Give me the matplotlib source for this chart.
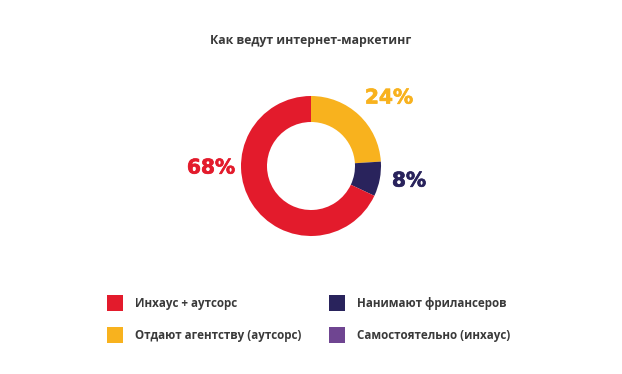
import matplotlib
matplotlib.use("Agg")
import matplotlib.pyplot as plt
from matplotlib import font_manager
from matplotlib import patheffects
from matplotlib.patches import Rectangle

# данные
categories = ["Отдают агентству (аутсорс)", "Нанимают фрилансеров",
              "Инхаус + аутсорс", "Самостоятельно (инхаус)"]
shares = [24, 8, 68, 0]
colors = ["#F8B21E", "#29235C", "#E31B2C", "#6F4591"]
title = "Как ведут интернет-маркетинг"

# раскладка (пиксели, y сверху)
W, H = 622, 374
CX, CY = 311, 166
R_OUT, R_IN = 70, 44
label_pos = {0: (389, 98), 1: (409, 181), 2: (211, 168)}
legend_order = [2, 1, 0, 3]
legend_xy = [(107, 303), (329, 303), (107, 335), (329, 335)]

TEXT = "#3A3A3A"


def bold_font():
    # ищем обычный (не condensed) Open Sans Bold
    files = font_manager.findSystemFonts()
    for f in files:
        name = f.split("/")[-1].lower()
        if name.startswith("opensans") and "bold" in name and "condensed" not in name \
                and "semi" not in name and "extra" not in name and "italic" not in name:
            return font_manager.FontProperties(fname=f)
    return font_manager.FontProperties(family="Roboto", weight="bold")


fp = bold_font()

fig = plt.figure(figsize=(W / 100, H / 100), dpi=100)
ax = fig.add_axes([0, 0, 1, 1])

ax.pie(shares, colors=colors, startangle=90, counterclock=False,
       center=(CX, H - CY), radius=R_OUT,
       wedgeprops=dict(width=R_OUT - R_IN, linewidth=0))
ax.set_xlim(0, W)
ax.set_ylim(0, H)
ax.set_aspect("equal")
ax.axis("off")

for i, (x, y) in label_pos.items():
    ax.text(x, H - y, f"{shares[i]}%", color=colors[i], fontsize=14.5,
            fontweight="bold", family="DejaVu Sans", ha="center", va="center",
            path_effects=[patheffects.withStroke(linewidth=0.5, foreground=colors[i])])

ax.text(CX, H - 40, title, color=TEXT, fontproperties=fp, fontsize=8.8,
        ha="center", va="center")

# легенда
for idx, (x, y) in zip(legend_order, legend_xy):
    ax.add_patch(Rectangle((x, H - y - 8), 16, 16, facecolor=colors[idx],
                           edgecolor="none"))
    ax.text(x + 28, H - y, categories[idx], color=TEXT, fontproperties=fp,
            fontsize=8.4, ha="left", va="center")

fig.savefig("out.png", dpi=100, facecolor="white")
